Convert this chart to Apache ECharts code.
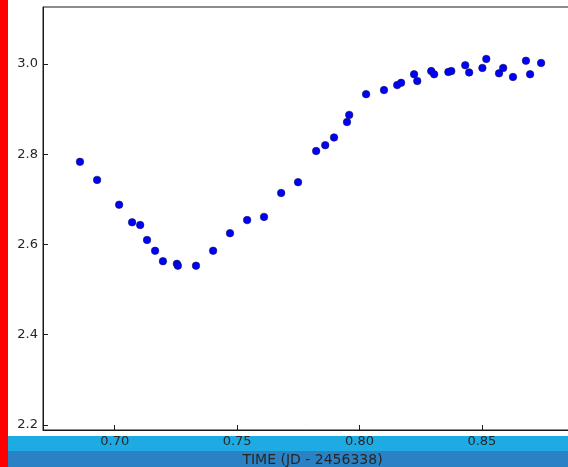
<!DOCTYPE html>
<html>
<head>
<meta charset="utf-8">
<script src="https://cdn.jsdelivr.net/npm/echarts@6/dist/echarts.min.js"></script>
<style>
  html, body { margin: 0; padding: 0; background: #fff; }
  #chart { width: 568px; height: 467px; }
</style>
</head>
<body>
<div id="chart"></div>
<script>
// Light-curve observations: time offset (JD - 2456338) and measured value
const times = [
  0.6858, 0.6928, 0.7018, 0.7071, 0.7104, 0.7132, 0.7165, 0.7197, 0.7254, 0.7258,
  0.7332, 0.7402, 0.7471, 0.7541, 0.7610, 0.7680, 0.7749, 0.7823, 0.7860, 0.7896,
  0.7949, 0.7958, 0.8027, 0.8100, 0.8154, 0.8170, 0.8223, 0.8236, 0.8293, 0.8305,
  0.8363, 0.8375, 0.8432, 0.8448, 0.8502, 0.8518, 0.8570, 0.8587, 0.8627, 0.8680,
  0.8697, 0.8742
];
const values = [
  2.783, 2.743, 2.688, 2.649, 2.643, 2.610, 2.586, 2.563, 2.557, 2.553,
  2.553, 2.586, 2.625, 2.654, 2.661, 2.714, 2.738, 2.807, 2.820, 2.837,
  2.871, 2.887, 2.933, 2.942, 2.953, 2.958, 2.977, 2.962, 2.984, 2.977,
  2.982, 2.984, 2.997, 2.981, 2.991, 3.011, 2.979, 2.991, 2.971, 3.007,
  2.977, 3.002
];
const xTicks = [0.70, 0.75, 0.80, 0.85];
const yTicks = [2.2, 2.4, 2.6, 2.8, 3.0];
const xTitle = 'TIME (JD - 2456338)';

const points = times.map((t, i) => [t, values[i]]);

const frameColor = '#1a1a1a';
const textColor = '#262626';
const font = 'DejaVu Sans';

const chart = echarts.init(document.getElementById('chart'), null, { renderer: 'canvas' });
chart.setOption({
  animation: false,
  backgroundColor: '#ffffff',
  graphic: [
    { type: 'rect', z: -5, shape: { x: 8, y: 436, width: 560, height: 15 }, style: { fill: '#1eaae2' } },
    { type: 'rect', z: -5, shape: { x: 8, y: 451, width: 560, height: 16 }, style: { fill: '#2a82c4' } },
    { type: 'rect', z: 10, shape: { x: 0, y: 0, width: 8, height: 467 }, style: { fill: '#ff0000' } }
  ],
  grid: {
    left: 43, top: 7, width: 539, height: 423,
    outerBoundsMode: 'none',
    containLabel: false,
    show: true, borderColor: frameColor, borderWidth: 1, backgroundColor: 'transparent'
  },
  xAxis: {
    type: 'value',
    min: 0.6707, max: 0.8909,
    name: xTitle,
    nameLocation: 'middle',
    nameGap: 21,
    nameTextStyle: { fontFamily: font, fontSize: 14, color: textColor },
    axisLine: { show: true, lineStyle: { color: frameColor, width: 1 } },
    axisTick: { show: true, inside: true, length: 5, customValues: xTicks, lineStyle: { color: frameColor } },
    axisLabel: {
      customValues: xTicks, margin: 5,
      fontFamily: font, fontSize: 13, color: textColor,
      formatter: v => v.toFixed(2)
    },
    splitLine: { show: false }
  },
  yAxis: {
    type: 'value',
    min: 2.189, max: 3.126,
    axisLine: { show: true, lineStyle: { color: frameColor, width: 1 } },
    axisTick: { show: true, inside: true, length: 5, customValues: yTicks, lineStyle: { color: frameColor } },
    axisLabel: {
      customValues: yTicks, margin: 5,
      fontFamily: font, fontSize: 13, color: textColor,
      formatter: v => v.toFixed(1)
    },
    splitLine: { show: false }
  },
  series: [{
    type: 'scatter',
    data: points,
    symbol: 'circle',
    symbolSize: 7.5,
    itemStyle: { color: '#0000ff', borderColor: '#10104a', borderWidth: 0.6, opacity: 1 }
  }]
});
</script>
</body>
</html>
